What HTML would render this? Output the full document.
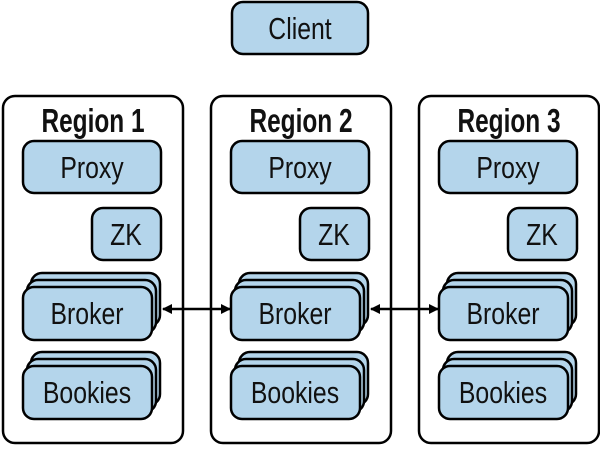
<!DOCTYPE html>
<html><head><style>body{margin:0;background:#fff}svg text{font-family:"Liberation Sans",sans-serif}</style></head>
<body>
<svg width="600" height="446" viewBox="0 0 600 446" xmlns="http://www.w3.org/2000/svg">
<defs>
<marker id="a" markerWidth="10" markerHeight="10" refX="9" refY="5" orient="auto-start-reverse" markerUnits="userSpaceOnUse"><path d="M0,0 L10,5 L0,10 z" fill="#000"/></marker>
<g id="reg" stroke="#000" stroke-width="2.5">
<rect x="3" y="96" width="180" height="347" rx="12" fill="#fff"/>
<rect x="23" y="141" width="138" height="52" rx="11" fill="#b4d5eb"/>
<rect x="92" y="208" width="69" height="52" rx="11" fill="#b4d5eb"/>
<rect x="31" y="273" width="129" height="53" rx="11" fill="#b4d5eb"/>
<rect x="27" y="280" width="129" height="53" rx="11" fill="#b4d5eb"/>
<rect x="23" y="287" width="129" height="53" rx="11" fill="#b4d5eb"/>
<rect x="31" y="352" width="129" height="53" rx="11" fill="#b4d5eb"/>
<rect x="27" y="359" width="129" height="53" rx="11" fill="#b4d5eb"/>
<rect x="23" y="366" width="129" height="53" rx="11" fill="#b4d5eb"/>
<g stroke="none" fill="#111" font-size="31" text-anchor="middle">
<text transform="translate(92,178) scale(.8,1)">Proxy</text>
<text transform="translate(126,245) scale(.8,1)">ZK</text>
<text transform="translate(87,324) scale(.8,1)">Broker</text>
<text transform="translate(87,403) scale(.8,1)">Bookies</text>
</g>
</g>
</defs>
<rect x="232" y="2" width="136" height="52" rx="11" fill="#b4d5eb" stroke="#000" stroke-width="2.5"/>
<text transform="translate(300,39) scale(.8,1)" font-size="31" text-anchor="middle" fill="#111">Client</text>
<use href="#reg"/>
<use href="#reg" x="208"/>
<use href="#reg" x="416"/>
<g font-size="33" font-weight="bold" text-anchor="middle" fill="#111">
<text transform="translate(93,132) scale(.74,1)">Region 1</text>
<text transform="translate(301,132) scale(.74,1)">Region 2</text>
<text transform="translate(509,132) scale(.74,1)">Region 3</text>
</g>
<g stroke="#000" stroke-width="2.5">
<line x1="163" y1="309" x2="230" y2="309" marker-start="url(#a)" marker-end="url(#a)"/>
<line x1="371" y1="309" x2="438" y2="309" marker-start="url(#a)" marker-end="url(#a)"/>
</g>
</svg>
</body></html>
